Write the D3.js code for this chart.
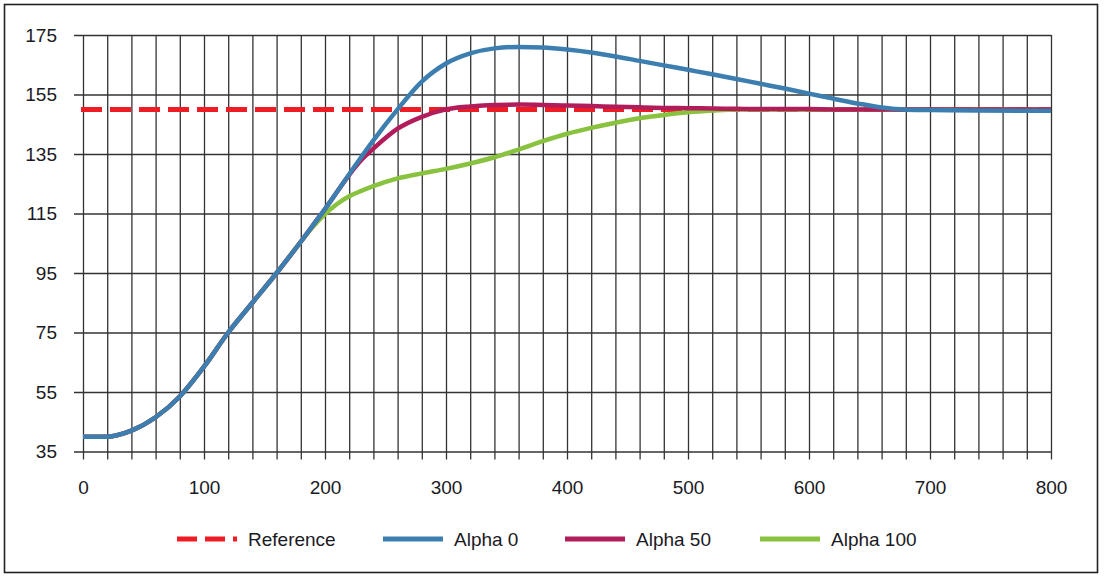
<!DOCTYPE html>
<html>
<head>
<meta charset="utf-8">
<script src="https://cdn.jsdelivr.net/npm/d3@7/dist/d3.min.js"></script>
<style>
  html, body { margin: 0; padding: 0; background: #fff; }
  svg text { font-family: "Liberation Sans", Arial, sans-serif; font-size: 19px; fill: #1a1a24; }
</style>
</head>
<body>
<svg id="chart" width="1104" height="578"></svg>
<script>
// ---- data ----
const steps    = [0, 20, 40, 60, 80, 100, 120, 140, 160, 180, 190, 200, 210, 220, 230, 240, 260, 280, 300, 320, 340, 360, 380, 400, 420, 440, 460, 480, 500, 520, 540, 560, 580, 600, 620, 640, 660, 680, 700, 740, 800];
const alpha0   = [40, 40, 42, 46.5, 53.5, 63.5, 75, 85, 95, 105.5, 111, 116.5, 122.3, 128.2, 134, 139.6, 150, 159.3, 165.4, 168.8, 170.5, 171, 170.8, 170.1, 169.1, 167.8, 166.3, 164.8, 163.3, 161.8, 160.2, 158.6, 157, 155.3, 153.6, 152, 150.6, 149.9, 149.8, 149.6, 149.5];
const alpha50  = [40, 40, 42, 46.5, 53.5, 63.5, 75, 85, 95, 105.5, 111, 116.5, 122.3, 128, 133, 136.8, 143.5, 147.5, 150, 151, 151.5, 151.6, 151.5, 151.3, 151.1, 150.9, 150.7, 150.5, 150.4, 150.3, 150.2, 150.1, 150.1, 150.1, 150, 150, 150, 150, 150, 150, 150];
const alpha100 = [40, 40, 42, 46.5, 53.5, 63.5, 75, 85, 95, 105.5, 110.5, 114.8, 118.2, 120.8, 122.6, 124.2, 126.8, 128.5, 130, 131.8, 133.9, 136.5, 139.3, 141.8, 143.8, 145.5, 147, 148.1, 149, 149.6, 150, 150, 150, 150, 150, 150, 150, 150, 150, 150, 150];
const referenceValue = 150;

const seriesNames = ["Alpha 100", "Alpha 50", "Alpha 0"];
const seriesData  = [alpha100, alpha50, alpha0];
const seriesColor = ["#88c23e", "#b11d5a", "#3c7eb0"];

const yTicks = [35, 55, 75, 95, 115, 135, 155, 175];
const xGrid  = d3.range(0, 801, 20);
const xLabels = [0, 100, 200, 300, 400, 500, 600, 700, 800];

const legendItems = [
  { name: "Reference", color: "#ee1c24", dashed: true },
  { name: "Alpha 0",   color: "#3c7eb0" },
  { name: "Alpha 50",  color: "#b11d5a" },
  { name: "Alpha 100", color: "#88c23e" }
];

// ---- layout ----
const svg = d3.select("#chart");
const x0 = 83, x1 = 1051, yTop = 35, yBot = 451.5;

const x = d3.scaleLinear().domain([0, 800]).range([x0, x1]);
const y = d3.scaleLinear().domain([35, 175]).range([yBot, yTop]);

// outer frame
svg.append("rect")
  .attr("x", 4.5).attr("y", 4.5)
  .attr("width", 1093).attr("height", 568)
  .attr("fill", "none").attr("stroke", "#222").attr("stroke-width", 1.6);

// horizontal grid + y labels
const yAxis = svg.append("g")
  .attr("transform", `translate(${x0 - 9},0)`)
  .call(d3.axisLeft(y).tickValues(yTicks).tickSize(-(x1 - x0 + 9)).tickPadding(17));
yAxis.select(".domain").remove();
yAxis.selectAll("line").attr("stroke", "#333").attr("stroke-width", 1.3);
yAxis.selectAll("text").attr("font-size", null).attr("font-family", null).attr("fill", null);

// vertical grid (extends below the plot as ticks)
const xGridAxis = svg.append("g")
  .attr("transform", `translate(0,${yBot + 8})`)
  .call(d3.axisBottom(x).tickValues(xGrid).tickSize(-(yBot - yTop + 8)).tickFormat(""));
xGridAxis.select(".domain").remove();
xGridAxis.selectAll("line").attr("stroke", "#333").attr("stroke-width", 1.3);

// x labels
const xAxis = svg.append("g")
  .attr("transform", `translate(0,${yBot})`)
  .call(d3.axisBottom(x).tickValues(xLabels).tickSize(0).tickPadding(29).tickFormat(d3.format("d")));
xAxis.select(".domain").remove();
xAxis.selectAll("text").attr("font-size", null).attr("font-family", null).attr("fill", null);

// reference line
svg.append("line")
  .attr("x1", x(0) - 2).attr("x2", x(800))
  .attr("y1", y(referenceValue)).attr("y2", y(referenceValue))
  .attr("stroke", "#ee1c24").attr("stroke-width", 5)
  .attr("stroke-dasharray", "21,8");

// series
const line = d3.line()
  .x((d, i) => x(steps[i]))
  .y(d => y(d))
  .curve(d3.curveMonotoneX);

svg.selectAll("path.series")
  .data(seriesData)
  .join("path")
  .attr("class", "series")
  .attr("d", d => line(d))
  .attr("fill", "none")
  .attr("stroke", (d, i) => seriesColor[i])
  .attr("stroke-width", 4.5)
  .attr("stroke-linejoin", "round");

// legend
const legendX = [177, 383, 565, 760];
const legY = 539;
const leg = svg.selectAll("g.legend")
  .data(legendItems)
  .join("g")
  .attr("class", "legend")
  .attr("transform", (d, i) => `translate(${legendX[i]},${legY})`);

leg.append("line")
  .attr("x1", 0).attr("x2", 60)
  .attr("stroke", d => d.color)
  .attr("stroke-width", 5)
  .attr("stroke-dasharray", d => d.dashed ? "20,8" : null);

leg.append("text")
  .attr("x", 71)
  .attr("dy", "0.35em")
  .text(d => d.name);
</script>
</body>
</html>
